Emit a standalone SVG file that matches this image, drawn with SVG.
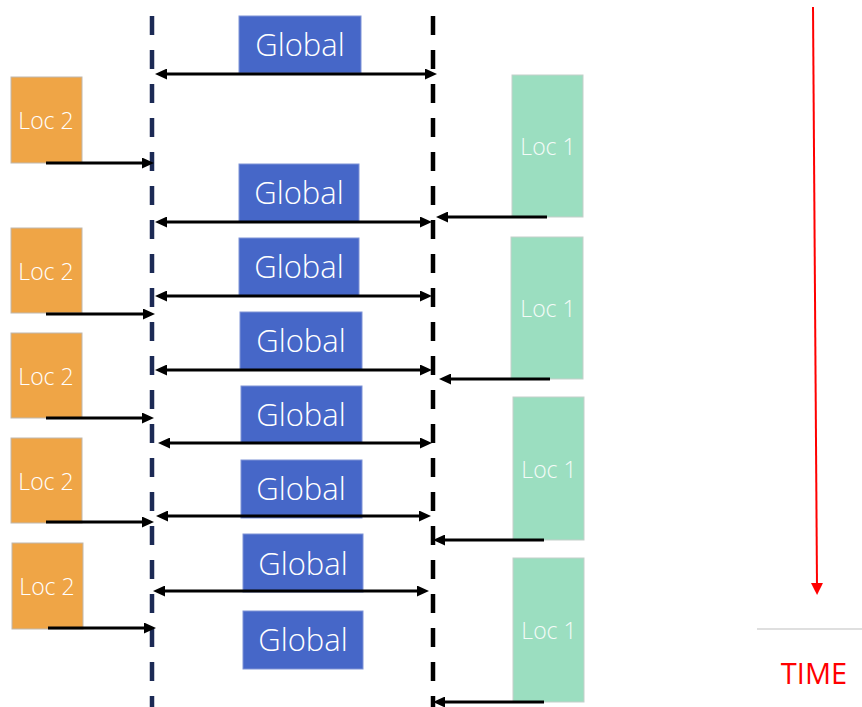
<svg xmlns="http://www.w3.org/2000/svg" width="862" height="707" viewBox="0 0 862 707">
<style>
.g rect{fill:#4667C8;stroke:#7f93d6;stroke-width:1}
.g text{font-family:"Open Sans","Noto Sans",sans-serif;font-weight:300;font-size:31px;fill:#fff;text-anchor:middle}
.l2 rect{fill:#EFA546;stroke:#c0b8ae;stroke-width:1}
.l2 text{font-family:"Open Sans","Noto Sans",sans-serif;font-weight:300;font-size:23px;fill:#fff;text-anchor:middle}
.l1 rect{fill:#9BDEC0;stroke:#c4cfca;stroke-width:1}
.l1 text{font-family:"Open Sans","Noto Sans",sans-serif;font-weight:300;font-size:23px;fill:#f4fbf8;text-anchor:middle}
.c{stroke:#000;stroke-width:3.2;fill:none}
.one{marker-end:url(#ah)}
.two{marker-start:url(#ah);marker-end:url(#ah)}
.dash{stroke-width:4.5;stroke-dasharray:19 15;fill:none}
</style>
<defs>
<marker id="ah" markerUnits="userSpaceOnUse" viewBox="0 0 12 11" refX="5" refY="5.5" markerWidth="12" markerHeight="11" orient="auto-start-reverse">
<path d="M0,0 L12,5.5 L0,11 z" fill="#000"/>
</marker>
<marker id="rh" markerUnits="userSpaceOnUse" viewBox="0 0 12 12" refX="3" refY="6" markerWidth="12" markerHeight="12" orient="auto">
<path d="M0,0 L12,6 L0,12 z" fill="#ff0000"/>
</marker>
</defs>
<rect width="862" height="707" fill="#fff"/>

<g id="lanes">
<line class="dash" x1="152" y1="16" x2="152" y2="707" stroke="#1C2A55"/>
<line class="dash" x1="433" y1="16" x2="433" y2="707" stroke="#000"/>
</g>

<g id="global1" class="g"><rect x="239" y="16" width="122" height="57"/><text x="300" y="56">Global</text></g>
<g id="global2" class="g"><rect x="239" y="164" width="120" height="58"/><text x="299" y="204">Global</text></g>
<g id="global3" class="g"><rect x="239" y="238" width="120" height="58"/><text x="299" y="278">Global</text></g>
<g id="global4" class="g"><rect x="240" y="312" width="122" height="58"/><text x="301" y="352">Global</text></g>
<g id="global5" class="g"><rect x="241" y="386" width="121" height="57"/><text x="301" y="426">Global</text></g>
<g id="global6" class="g"><rect x="241" y="460" width="121" height="58"/><text x="301" y="500">Global</text></g>
<g id="global7" class="g"><rect x="243" y="534" width="120" height="58"/><text x="303" y="575">Global</text></g>
<g id="global8" class="g"><rect x="243" y="611" width="120" height="58"/><text x="303" y="651">Global</text></g>

<g id="loc2a" class="l2"><rect x="11" y="77" width="71" height="86"/><text x="46" y="129">Loc 2</text></g>
<g id="loc2b" class="l2"><rect x="11" y="228" width="71" height="85"/><text x="46" y="280">Loc 2</text></g>
<g id="loc2c" class="l2"><rect x="11" y="333" width="71" height="85"/><text x="46" y="385">Loc 2</text></g>
<g id="loc2d" class="l2"><rect x="11" y="438" width="71" height="85"/><text x="46" y="490">Loc 2</text></g>
<g id="loc2e" class="l2"><rect x="12" y="543" width="71" height="86"/><text x="47" y="595">Loc 2</text></g>

<g id="loc1a" class="l1"><rect x="512" y="75" width="71" height="142"/><text x="548" y="155">Loc 1</text></g>
<g id="loc1b" class="l1"><rect x="511" y="237" width="72" height="142"/><text x="548" y="317">Loc 1</text></g>
<g id="loc1c" class="l1"><rect x="513" y="397" width="71" height="143"/><text x="549" y="478">Loc 1</text></g>
<g id="loc1d" class="l1"><rect x="513" y="558" width="71" height="144"/><text x="549" y="639">Loc 1</text></g>

<g id="connectors">
<line class="c one" x1="46" y1="163" x2="147" y2="163"/>
<line class="c one" x1="46" y1="314" x2="148" y2="314"/>
<line class="c one" x1="46" y1="418" x2="147" y2="418"/>
<line class="c one" x1="46" y1="522" x2="147" y2="522"/>
<line class="c one" x1="48" y1="628" x2="149" y2="628"/>

<line class="c two" x1="162" y1="74" x2="430" y2="74"/>
<line class="c two" x1="162" y1="222" x2="425" y2="222"/>
<line class="c two" x1="162" y1="296" x2="425" y2="296"/>
<line class="c two" x1="162" y1="370" x2="425" y2="370"/>
<line class="c two" x1="165" y1="443" x2="425" y2="443"/>
<line class="c two" x1="163" y1="516" x2="424" y2="516"/>
<line class="c two" x1="160" y1="591" x2="422" y2="591"/>

<line class="c one" x1="547" y1="217" x2="443" y2="217"/>
<line class="c one" x1="550" y1="379" x2="446" y2="379"/>
<line class="c one" x1="544" y1="540" x2="440" y2="540"/>
<line class="c one" x1="544" y1="702" x2="440" y2="702"/>
</g>

<g id="time">
<line x1="813" y1="7" x2="817" y2="586" stroke="#ff0000" stroke-width="2" marker-end="url(#rh)"/>
<line x1="757" y1="629" x2="862" y2="629" stroke="#bfbfbf" stroke-width="1"/>
<text x="814" y="684" font-family="'Open Sans','Noto Sans',sans-serif" font-size="29" fill="#ff0000" text-anchor="middle">TIME</text>
</g>
</svg>
